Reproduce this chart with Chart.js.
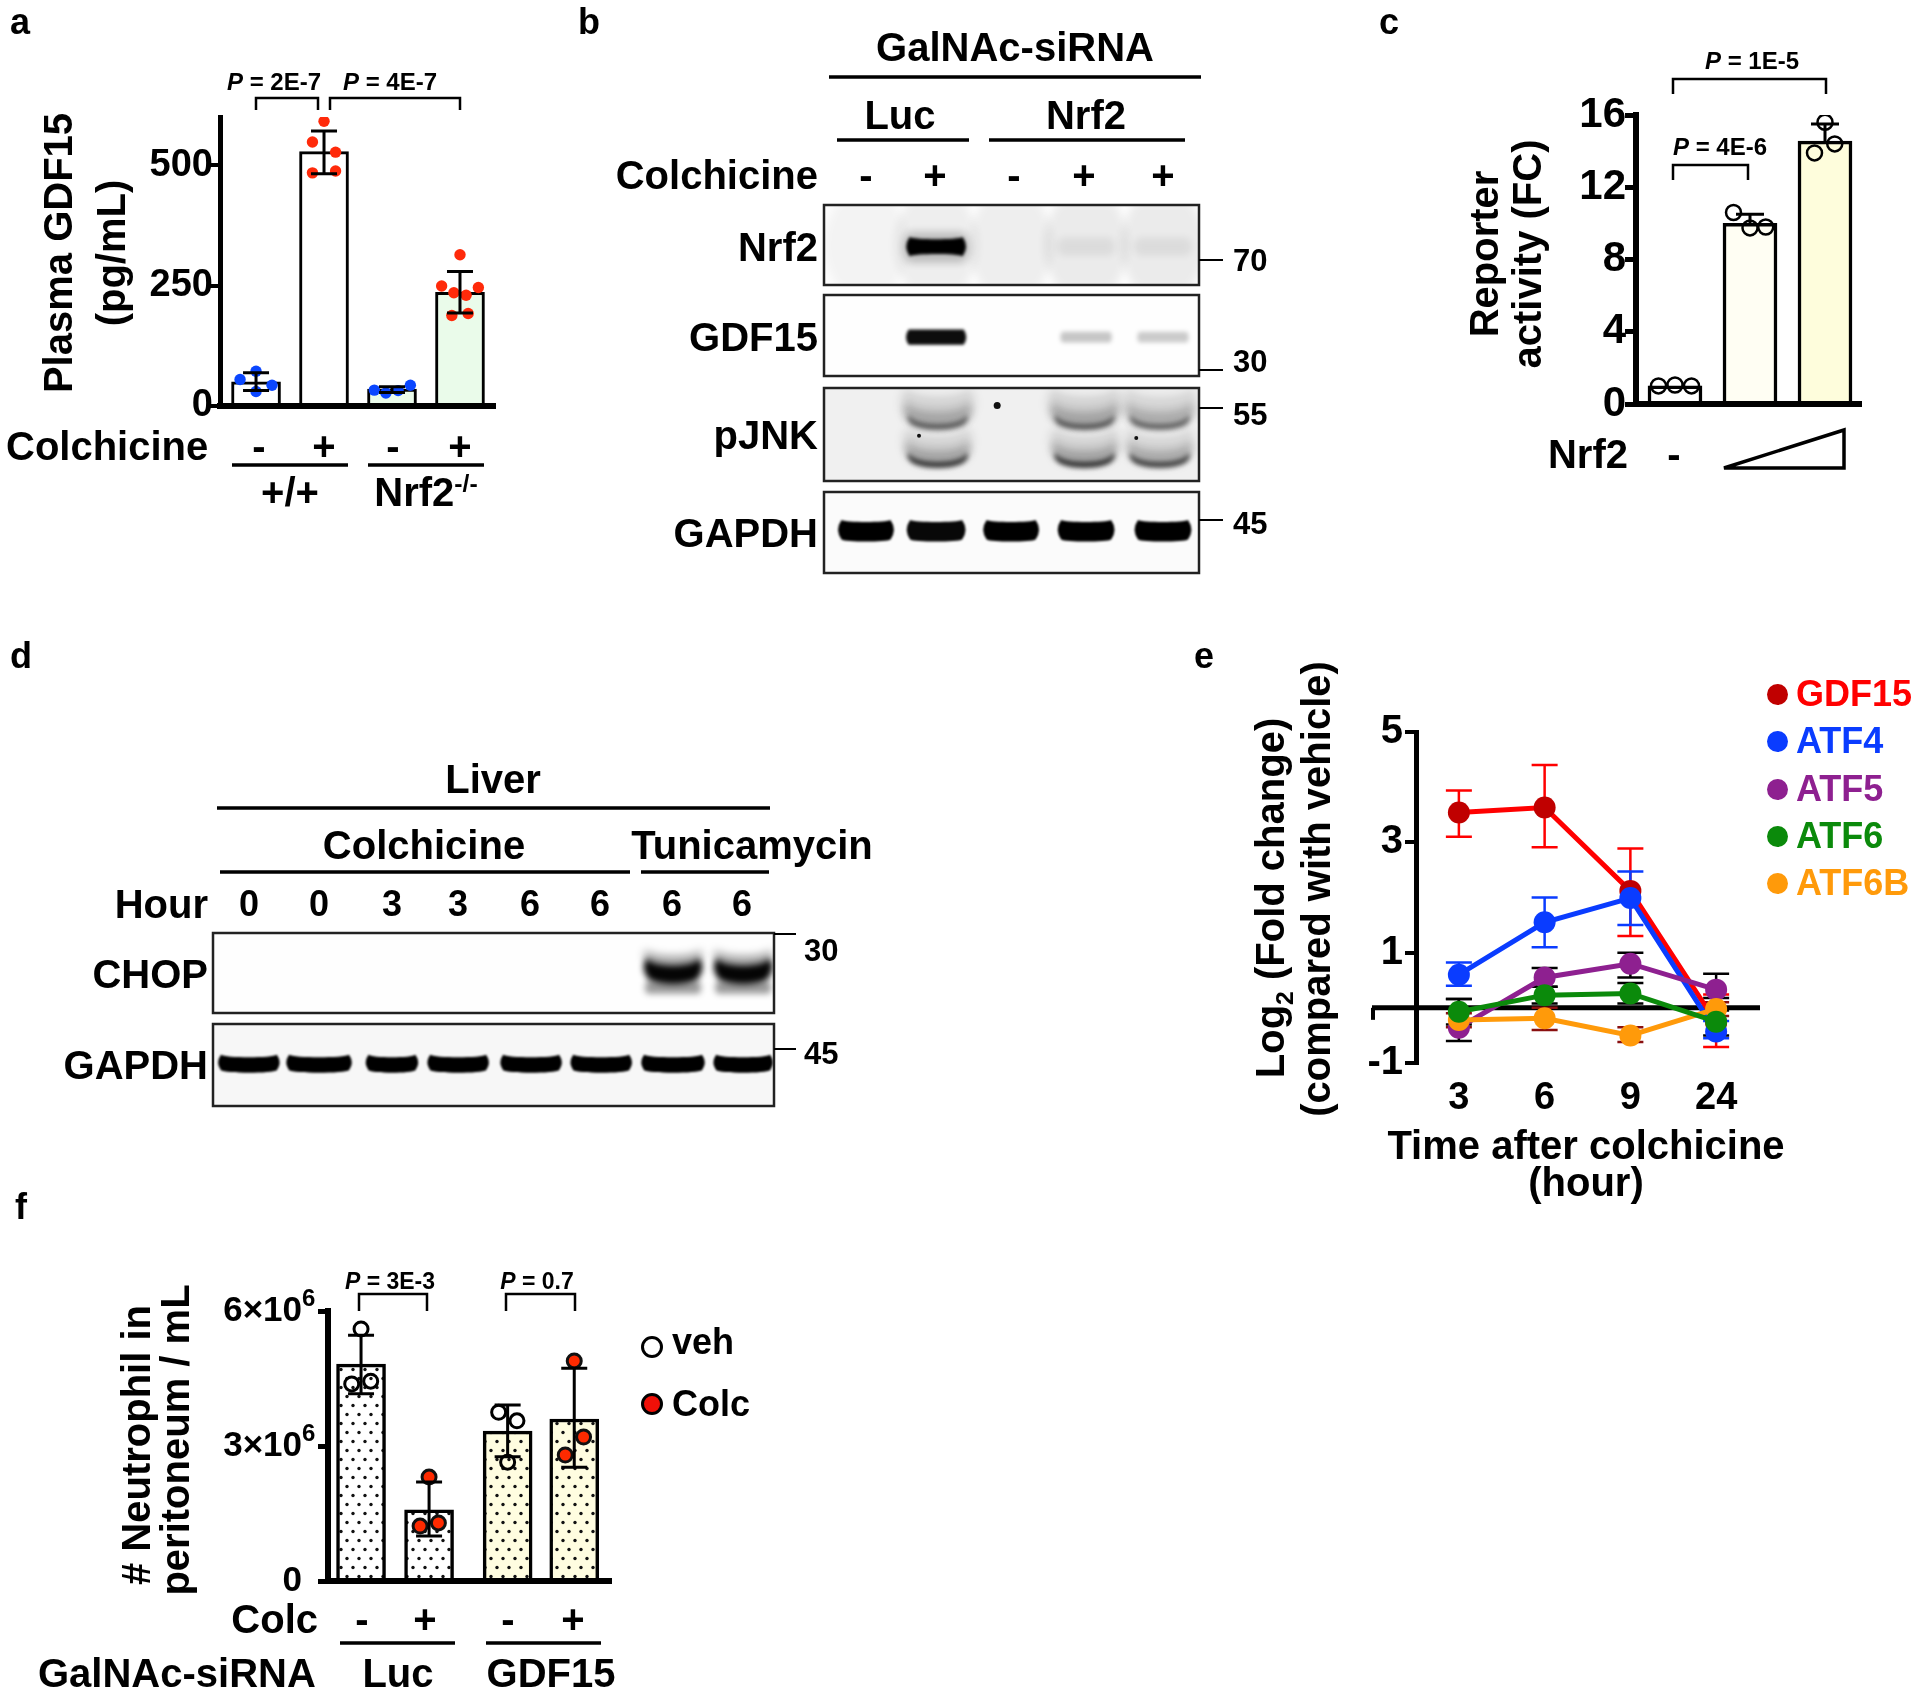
<!DOCTYPE html>
<html>
<head>
<meta charset="utf-8">
<script src="https://cdn.jsdelivr.net/npm/chart.js@4"></script>
<style>
  html, body { margin: 0; background: #fff; }
  #page { position: relative; width: 1920px; height: 1694px; overflow: hidden; background: #fff;
          font-family: "Liberation Sans", Arial, sans-serif; font-weight: bold; color: #000; }
  #page canvas { position: absolute; }
  #lines { position: absolute; left: 0; top: 0; z-index: 5; }
  .t { position: absolute; white-space: nowrap; line-height: 1; z-index: 6; }
  .t sup, .t sub { font-size: 62%; line-height: 0; }
  .dot { position: absolute; border-radius: 50%; box-sizing: border-box; z-index: 6; }
</style>
</head>
<body>
<div id="page"><svg id="lines" width="1920" height="1694"></svg></div>
<script>
// ----------------------
// DATA
// ----------------------

// panel a
const aBarX = [0, 1, 2, 3];
const aMeans = [50, 528, 35, 236];
const aErrHi = [69, 571, 40, 279];
const aErrLo = [32, 482, 28, 193];
const aBlueX = [0, -0.235, 0.235, 0, 1.74, 1.91, 2.09, 2.27];
const aBlueY = [72, 55, 43, 30, 33, 27, 32, 43];
const aRedX = [1, 0.83, 1.17, 0.83, 1.17, 3, 2.73, 3.27, 2.91, 3.09, 2.88, 3.12];
const aRedY = [591, 548, 527, 484, 488, 314, 249, 246, 235, 230, 188, 192];
const aTicks = [0, 250, 500];

// panel c
const cBarX = [0, 1, 2];
const cMeans = [1.0, 10.0, 14.55];
const cErrHi = [1.0, 10.5, 15.5];
const cDotX = [-0.22, 0, 0.22, 0.78, 1, 1.21, 2, 1.86, 2.13];
const cDotY = [1.0, 1.05, 1.0, 10.6, 9.75, 9.8, 15.6, 13.9, 14.4];
const cTicks = [0, 4, 8, 12, 16];

// panel e
const eHours = ['3', '6', '9', '24'];
const eTicks = [-1, 1, 3, 5];
const gdf15 = [3.54, 3.63, 2.12, -0.27];
const gdf15Hi = [3.94, 4.4, 2.89, 0.24];
const gdf15Lo = [3.1, 2.91, 1.3, -0.71];
const atf4 = [0.6, 1.55, 1.99, -0.43];
const atf4Hi = [0.82, 2.0, 2.47, -0.24];
const atf4Lo = [0.4, 1.1, 1.5, -0.55];
const atf5 = [-0.36, 0.55, 0.8, 0.33];
const atf5Hi = [0.16, 0.72, 1.0, 0.62];
const atf5Lo = [-0.6, 0.38, 0.55, 0.18];
const atf6 = [-0.07, 0.23, 0.26, -0.25];
const atf6Hi = [0.16, 0.38, 0.45, -0.05];
const atf6Lo = [-0.3, 0.08, 0.08, -0.5];
const atf6b = [-0.22, -0.19, -0.5, -0.02];
const atf6bHi = [-0.1, 0.0, -0.35, 0.1];
const atf6bLo = [-0.35, -0.4, -0.62, -0.15];

// panel f
const fBarX = [0, 1.007, 2.17, 3.156];
const fMeans = [4.82e6, 1.58e6, 3.33e6, 3.6e6];
const fErrHi = [5.46e6, 2.2e6, 3.91e6, 4.73e6];
const fErrLo = [4.16e6, 1.0e6, 2.76e6, 2.53e6];
const fVehX = [0, -0.138, 0.143, 2.037, 2.308, 2.17];
const fVehY = [5.6e6, 4.38e6, 4.44e6, 3.75e6, 3.56e6, 2.64e6];
const fColcX = [1.007, 0.874, 1.145, 3.156, 3.294, 3.023];
const fColcY = [2.31e6, 1.22e6, 1.29e6, 4.89e6, 3.2e6, 2.8e6];
const fTicks = [0, 3e6, 6e6];

// blot lanes (fraction of strip width) and band density per lane
const bLanes = [0.112, 0.299, 0.499, 0.699, 0.904];
const nrf2Haze = [0.04, 0.06, 0.06, 0.07, 0.07];
const nrf2Density = [0, 1, 0, 0, 0];
const nrf2Faint = [0, 0, 0, 0.07, 0.07];
const gdf15Density = [0, 0.95, 0, 0, 0];
const gdf15Faint = [0, 0, 0, 0.22, 0.2];
const pjnkDensity = [0, 0.78, 0, 0.8, 0.72];
const gapdhBDensity = [1, 0.97, 1, 1, 1];
const dLanes = [0.064, 0.189, 0.319, 0.437, 0.567, 0.692, 0.82, 0.945];
const chopDensity = [0, 0, 0, 0, 0, 0, 0.98, 0.98];
const gapdhDDensity = [1, 1, 1, 1, 1, 1, 1, 1];

// ----------------------
// HELPERS
// ----------------------

const page = document.getElementById('page');
const svg = document.getElementById('lines');
const FONT = '"Liberation Sans", Arial, sans-serif';
Chart.defaults.font.family = FONT;
Chart.defaults.font.weight = 'bold';
Chart.defaults.color = '#000';
Chart.defaults.animation = false;

function T(html, x, y, opts) {
  const o = opts || {};
  const d = document.createElement('div');
  d.className = 't';
  d.innerHTML = html;
  d.style.left = x + 'px';
  d.style.top = y + 'px';
  d.style.fontSize = (o.size || 40) + 'px';
  if (o.color) d.style.color = o.color;
  const ax = o.anchor === 'l' ? '0' : o.anchor === 'r' ? '-100%' : '-50%';
  d.style.transform = 'translate(' + ax + ',-50%)' + (o.rot ? ' rotate(-90deg)' : '');
  page.appendChild(d);
}

function L(x1, y1, x2, y2, w) {
  const l = document.createElementNS('http://www.w3.org/2000/svg', 'line');
  l.setAttribute('x1', x1); l.setAttribute('y1', y1);
  l.setAttribute('x2', x2); l.setAttribute('y2', y2);
  l.setAttribute('stroke', '#000');
  l.setAttribute('stroke-width', w || 3.5);
  svg.appendChild(l);
}

function bracket(x1, x2, top, bottom) {
  const p = document.createElementNS('http://www.w3.org/2000/svg', 'path');
  p.setAttribute('d', `M${x1} ${bottom}V${top}H${x2}V${bottom}`);
  p.setAttribute('fill', 'none');
  p.setAttribute('stroke', '#000');
  p.setAttribute('stroke-width', 2.5);
  svg.appendChild(p);
}

function frame(x1, y1, x2, y2) {
  const r = document.createElementNS('http://www.w3.org/2000/svg', 'rect');
  r.setAttribute('x', x1); r.setAttribute('y', y1);
  r.setAttribute('width', x2 - x1); r.setAttribute('height', y2 - y1);
  r.setAttribute('fill', 'none');
  r.setAttribute('stroke', '#222');
  r.setAttribute('stroke-width', 2.5);
  svg.appendChild(r);
}

// canvas placed so that the plot area lands on the rect
function plotCanvas(pl, pt, pr, pb, yw, xh, padTop, padRight) {
  const c = document.createElement('canvas');
  c.width = yw + (pr - pl) + padRight;
  c.height = padTop + (pb - pt) + xh;
  c.style.left = (pl - yw) + 'px';
  c.style.top = (pt - padTop) + 'px';
  page.appendChild(c);
  return c;
}

const zip = (xs, ys) => xs.map((x, i) => ({ x: x, y: ys[i] }));

function errPlugin(sets, under) {
  const draw = chart => {
    const ctx = chart.ctx, xs = chart.scales.x, ys = chart.scales.y;
    sets.forEach(s => {
      ctx.save();
      ctx.strokeStyle = s.color || '#000';
      ctx.lineWidth = s.lw || 3;
      s.x.forEach((x, i) => {
        const px = xs.getPixelForValue(x);
        const hi = ys.getPixelForValue(s.hi[i]);
        const lo = ys.getPixelForValue(s.lo[i]);
        ctx.beginPath();
        ctx.moveTo(px, hi); ctx.lineTo(px, lo);
        ctx.moveTo(px - s.cap, hi); ctx.lineTo(px + s.cap, hi);
        if (s.lowCap !== false) { ctx.moveTo(px - s.cap, lo); ctx.lineTo(px + s.cap, lo); }
        ctx.stroke();
      });
      ctx.restore();
    });
  };
  return under ? { id: 'errUnder', beforeDatasetsDraw: draw } : { id: 'errOver', afterDatasetsDraw: draw };
}

function yAxis(min, max, ticks, yw, size, fmt, tickLen, tickW, pad) {
  return {
    min: min, max: max,
    afterFit: s => { s.width = yw; },
    afterBuildTicks: s => { s.ticks = ticks.map(v => ({ value: v })); },
    border: { display: true, color: '#000', width: tickW + 1, z: 1 },
    grid: { drawOnChartArea: false, tickLength: tickLen, lineWidth: tickW, color: '#000' },
    ticks: { font: { size: size, weight: 'bold' }, padding: pad || 2, autoSkip: false, callback: fmt || (v => v) }
  };
}

function barAxisX(min, max, xh) {
  return {
    type: 'linear', min: min, max: max, offset: false,
    afterFit: s => { s.height = xh; },
    border: { display: true, color: '#000', width: 6, z: 1 },
    grid: { display: false, offset: false },
    ticks: { display: false }
  };
}

function dotPattern(bg) {
  const c = document.createElement('canvas');
  c.width = 12; c.height = 18;
  const g = c.getContext('2d');
  g.fillStyle = bg;
  g.fillRect(0, 0, 12, 18);
  g.fillStyle = '#111';
  [[3, 4.5], [9, 13.5]].forEach(p => {
    g.beginPath(); g.arc(p[0], p[1], 1.7, 0, Math.PI * 2); g.fill();
  });
  return g.createPattern(c, 'repeat');
}

// ----------------------
// PANEL A
// ----------------------

new Chart(plotCanvas(220, 117, 495, 406, 120, 30, 30, 20), {
  type: 'bar',
  data: {
    datasets: [
      { type: 'scatter', data: zip(aBlueX, aBlueY), pointRadius: 5.7, pointBackgroundColor: '#0A46FF', pointBorderWidth: 0 },
      { type: 'scatter', data: zip(aRedX, aRedY), pointRadius: 5.7, pointBackgroundColor: '#FF2A0A', pointBorderWidth: 0 },
      { data: zip(aBarX, aMeans), barThickness: 49, borderWidth: 3, borderColor: '#000',
        backgroundColor: ['#fff', '#fff', '#EAFBEA', '#EAFBEA'] }
    ]
  },
  options: {
    responsive: false,
    layout: { padding: { top: 30, right: 20 } },
    plugins: { legend: { display: false }, tooltip: { enabled: false } },
    scales: { x: barAxisX(-0.53, 3.515, 30), y: yAxis(0, 600, aTicks, 120, 38, null, 10, 4, -3) }
  },
  plugins: [errPlugin([{ x: aBarX, hi: aErrHi, lo: aErrLo, cap: 13, lw: 3 }], false)]
});

T('a', 10, 22, { size: 36, anchor: 'l' });
T('Plasma GDF15', 58, 253, { rot: 1 });
T('(pg/mL)', 111, 253, { rot: 1 });
T('<i>P</i> = 2E-7', 274, 82, { size: 24 });
T('<i>P</i> = 4E-7', 390, 82, { size: 24 });
bracket(256, 318, 98, 110);
bracket(330, 460, 98, 110);
T('Colchicine', 6, 446, { anchor: 'l' });
T('-', 259, 446); T('+', 324, 446); T('-', 393, 446); T('+', 460, 446);
L(232, 465, 348, 465); L(368, 465, 484, 465);
T('+/+', 290, 492);
T('Nrf2<sup>-/-</sup>', 426, 492);

// ----------------------
// BLOTS
// ----------------------

function bandPath(ctx, cx, cy, w, h, sag, pinch) {
  const l = cx - w / 2, r = cx + w / 2;
  const topEnd = cy - h / 2 - sag, botEnd = cy + h / 2 - sag;
  const topCtl = cy - h / 2 + sag / 3 + pinch, botCtl = cy + h / 2 + sag / 3 - pinch;
  const round = h * 0.35;
  ctx.beginPath();
  ctx.moveTo(l, topEnd);
  ctx.bezierCurveTo(l + 0.08 * w, topCtl, r - 0.08 * w, topCtl, r, topEnd);
  ctx.quadraticCurveTo(r + round, (topEnd + botEnd) / 2, r, botEnd);
  ctx.bezierCurveTo(r - 0.08 * w, botCtl, l + 0.08 * w, botCtl, l, botEnd);
  ctx.quadraticCurveTo(l - round, (topEnd + botEnd) / 2, l, topEnd);
  ctx.closePath();
}

function blot(x1, y1, x2, y2, bg, lanes, rows, specks, speckSizes) {
  const c = document.createElement('canvas');
  c.width = x2 - x1; c.height = y2 - y1;
  c.style.left = x1 + 'px'; c.style.top = y1 + 'px';
  c.style.background = bg;
  page.appendChild(c);
  frame(x1, y1, x2, y2);
  new Chart(c, {
    type: 'scatter',
    data: {
      datasets: [{ data: specks || [], pointRadius: speckSizes || 2, pointBackgroundColor: '#111', pointBorderWidth: 0 }]
        .concat(rows.map(r => ({ data: lanes.map(x => ({ x: x, y: r.y })), pointRadius: 0 })))
    },
    options: {
      responsive: false,
      plugins: { legend: { display: false }, tooltip: { enabled: false } },
      scales: {
        x: { display: false, min: 0, max: 1 },
        y: { display: false, min: 0, max: 1, reverse: true }
      }
    },
    plugins: [{
      id: 'bands',
      beforeDatasetsDraw(chart) {
        const ctx = chart.ctx, xs = chart.scales.x, ys = chart.scales.y;
        const H = chart.chartArea.bottom - chart.chartArea.top;
        rows.forEach(r => {
          ctx.save();
          ctx.filter = 'blur(' + r.blur + 'px)';
          lanes.forEach((x, i) => {
            const d = r.density[i] * (r.gain || 1);
            if (!d) return;
            ctx.fillStyle = 'rgba(0,0,0,' + d + ')';
            const w = r.widths ? r.widths[i] : r.w;
            bandPath(ctx, xs.getPixelForValue(x), ys.getPixelForValue(r.y), w, r.h * H, r.sag, r.pinch || 0);
            ctx.fill();
          });
          ctx.restore();
        });
      }
    }]
  });
}

// panel b
blot(824, 205, 1199, 285, '#FDFDFD', bLanes, [
  { y: 0.5, h: 1.1, w: 54, sag: 0, blur: 5, density: nrf2Haze },
  { y: 0.52, h: 0.22, w: 52, sag: 0, blur: 4, density: nrf2Faint },
  { y: 0.53, h: 0.38, w: 55, sag: 0, blur: 4, density: nrf2Density, gain: 0.22 },
  { y: 0.52, h: 0.24, w: 53, sag: 0, blur: 1.8, pinch: 3, density: nrf2Density }
]);
blot(824, 295, 1199, 376, '#FEFEFE', bLanes, [
  { y: 0.52, h: 0.19, w: 55, sag: 0, blur: 1.8, density: gdf15Density },
  { y: 0.52, h: 0.13, w: 48, sag: 0, blur: 2.2, density: gdf15Faint }
]);
blot(824, 388, 1199, 481, '#F0F0F0', bLanes, [
  { y: 0.24, h: 0.38, w: 63, sag: 9, blur: 5, density: pjnkDensity, gain: 0.16 },
  { y: 0.33, h: 0.20, w: 62, sag: 9, blur: 4, density: pjnkDensity, gain: 0.28 },
  { y: 0.41, h: 0.06, w: 58, sag: 9, blur: 2.5, density: pjnkDensity, gain: 0.75 },
  { y: 0.69, h: 0.34, w: 60, sag: 9, blur: 5, density: pjnkDensity, gain: 0.16 },
  { y: 0.78, h: 0.18, w: 60, sag: 9, blur: 4, density: pjnkDensity, gain: 0.3 },
  { y: 0.855, h: 0.065, w: 58, sag: 9, blur: 2.5, density: pjnkDensity }
], [{ x: 0.461, y: 0.16 }, { x: 0.248, y: 0.516 }, { x: 0.84, y: 0.54 }], [3.5, 2, 2]);
blot(824, 492, 1199, 573, '#FBFBFB', bLanes, [
  { y: 0.49, h: 0.24, w: 50, sag: 2, blur: 1.3, density: gapdhBDensity,
    widths: [49, 52, 49, 50, 50] }
]);

T('b', 578, 22, { size: 36, anchor: 'l' });
T('GalNAc-siRNA', 1015, 47);
L(829, 77, 1201, 77);
T('Luc', 900, 115); T('Nrf2', 1086, 115);
L(837, 140, 969, 140); L(989, 140, 1185, 140);
T('Colchicine', 818, 175, { anchor: 'r' });
T('-', 866, 175); T('+', 935, 175); T('-', 1014, 175); T('+', 1084, 175); T('+', 1163, 175);
T('Nrf2', 818, 247, { anchor: 'r' });
T('GDF15', 818, 337, { anchor: 'r' });
T('pJNK', 818, 435, { anchor: 'r' });
T('GAPDH', 818, 533, { anchor: 'r' });
L(1199, 260, 1223, 260, 2); T('70', 1233, 260, { anchor: 'l', size: 31 });
L(1199, 370, 1223, 370, 2); T('30', 1233, 361, { anchor: 'l', size: 31 });
L(1199, 408, 1223, 408, 2); T('55', 1233, 414, { anchor: 'l', size: 31 });
L(1199, 520, 1223, 520, 2); T('45', 1233, 523, { anchor: 'l', size: 31 });

// panel d
blot(213, 933, 774, 1013, '#FEFEFE', dLanes, [
  { y: 0.36, h: 0.16, w: 54, sag: 6, blur: 4, density: chopDensity, gain: 0.35 },
  { y: 0.68, h: 0.16, w: 52, sag: 0, blur: 3, density: chopDensity, gain: 0.4 },
  { y: 0.52, h: 0.24, w: 52, sag: 7, blur: 3, density: chopDensity }
]);
blot(213, 1024, 774, 1106, '#F7F7F7', dLanes, [
  { y: 0.5, h: 0.19, w: 54, sag: 2.5, blur: 1.3, density: gapdhDDensity,
    widths: [56, 60, 47, 56, 56, 56, 58, 54] }
]);

T('d', 10, 656, { size: 36, anchor: 'l' });
T('Liver', 493, 779);
L(217, 808, 770, 808);
T('Colchicine', 424, 845); T('Tunicamycin', 752, 845);
L(220, 872, 630, 872); L(641, 872, 769, 872);
T('Hour', 208, 904, { anchor: 'r' });
['0', '0', '3', '3', '6', '6', '6', '6'].forEach((h, i) => {
  T(h, [249, 319, 392, 458, 530, 600, 672, 742][i], 904, { size: 36 });
});
T('CHOP', 208, 974, { anchor: 'r' });
T('GAPDH', 208, 1065, { anchor: 'r' });
L(774, 934, 796, 934, 2); T('30', 804, 950, { anchor: 'l', size: 31 });
L(774, 1049, 796, 1049, 2); T('45', 804, 1053, { anchor: 'l', size: 31 });

// ----------------------
// PANEL C
// ----------------------

new Chart(plotCanvas(1636, 115, 1861, 404, 120, 30, 30, 20), {
  type: 'bar',
  data: {
    datasets: [
      { type: 'scatter', data: zip(cDotX, cDotY), pointRadius: 7.5, pointBackgroundColor: 'transparent',
        pointBorderColor: '#000', pointBorderWidth: 2.5 },
      { data: zip(cBarX, cMeans), barThickness: 54, borderWidth: 3.5, borderColor: '#000',
        backgroundColor: ['#fff', '#FFFEF3', '#FEFDDC'] }
    ]
  },
  options: {
    responsive: false,
    layout: { padding: { top: 30, right: 20 } },
    plugins: { legend: { display: false }, tooltip: { enabled: false } },
    scales: { x: barAxisX(-0.52, 2.48, 30), y: yAxis(0, 16, cTicks, 120, 42, null, 11, 5, -1) }
  },
  plugins: [errPlugin([{ x: cBarX.slice(1), hi: cErrHi.slice(1), lo: cMeans.slice(1), cap: 14, lw: 3, lowCap: false }], false)]
});

T('c', 1379, 22, { size: 36, anchor: 'l' });
T('Reporter', 1484, 254, { rot: 1 });
T('activity (FC)', 1527, 254, { rot: 1 });
T('<i>P</i> = 1E-5', 1752, 61, { size: 24 });
bracket(1673, 1826, 79, 94);
T('<i>P</i> = 4E-6', 1720, 147, { size: 24 });
bracket(1673, 1748, 165, 180);
T('Nrf2', 1588, 454);
T('-', 1674, 454);
const tri = document.createElementNS('http://www.w3.org/2000/svg', 'path');
tri.setAttribute('d', 'M1724 468L1844 430V468Z');
tri.setAttribute('fill', 'none');
tri.setAttribute('stroke', '#000');
tri.setAttribute('stroke-width', 3.5);
svg.appendChild(tri);

// ----------------------
// PANEL E
// ----------------------

const eSeries = [
  { name: 'ATF6', y: atf6, hi: atf6Hi, lo: atf6Lo, line: '#0B8A0B', dot: '#0B8A0B', err: '#000' },
  { name: 'ATF6B', y: atf6b, hi: atf6bHi, lo: atf6bLo, line: '#FF9A0A', dot: '#FF9A0A', err: '#8A1010' },
  { name: 'ATF5', y: atf5, hi: atf5Hi, lo: atf5Lo, line: '#8E2090', dot: '#8E2090', err: '#000' },
  { name: 'ATF4', y: atf4, hi: atf4Hi, lo: atf4Lo, line: '#0A3CFF', dot: '#0A3CFF', err: '#0A3CFF' },
  { name: 'GDF15', y: gdf15, hi: gdf15Hi, lo: gdf15Lo, line: '#FF0000', dot: '#C00000', err: '#FF0000' }
];

new Chart(plotCanvas(1416, 732, 1759, 1063, 120, 70, 30, 20), {
  type: 'line',
  data: {
    labels: eHours,
    datasets: eSeries.map(s => ({
      label: s.name, data: s.y, borderColor: s.line, borderWidth: 5, tension: 0,
      pointRadius: 11, pointBackgroundColor: s.dot, pointBorderWidth: 0, clip: false
    }))
  },
  options: {
    responsive: false,
    layout: { padding: { top: 30, right: 20 } },
    plugins: { legend: { display: false }, tooltip: { enabled: false } },
    scales: {
      x: {
        offset: true,
        afterFit: s => { s.height = 70; },
        border: { display: false },
        grid: { display: false },
        ticks: { font: { size: 38, weight: 'bold' }, padding: 5, maxRotation: 0 }
      },
      y: yAxis(-1, 5, eTicks, 120, 40, null, 11, 4)
    }
  },
  plugins: [
    {
      id: 'zeroLine',
      beforeDatasetsDraw(chart) {
        const ctx = chart.ctx, y0 = chart.scales.y.getPixelForValue(0);
        const left = chart.chartArea.left - 44;
        ctx.save();
        ctx.strokeStyle = '#000';
        ctx.lineWidth = 5;
        ctx.beginPath();
        ctx.moveTo(left, y0); ctx.lineTo(chart.chartArea.right + 1, y0);
        ctx.stroke();
        ctx.lineWidth = 4;
        ctx.beginPath();
        ctx.moveTo(left + 1, y0); ctx.lineTo(left + 1, y0 + 12);
        ctx.stroke();
        ctx.restore();
      }
    },
    errPlugin(eSeries.slice().reverse().map(s => ({
      x: [0, 1, 2, 3], hi: s.hi, lo: s.lo, color: s.err, cap: 13, lw: 2.5
    })), true)
  ]
});

T('e', 1194, 656, { size: 36, anchor: 'l' });
T('Log<sub>2</sub> (Fold change)', 1270, 898, { rot: 1 });
T('(compared with vehicle)', 1316, 889, { rot: 1 });
T('Time after colchicine', 1586, 1145);
T('(hour)', 1586, 1182);

const eLegend = [
  ['GDF15', '#C00000', '#FF0000', 694], ['ATF4', '#0A3CFF', '#0A3CFF', 741], ['ATF5', '#8E2090', '#8E2090', 789],
  ['ATF6', '#0B8A0B', '#0B8A0B', 836], ['ATF6B', '#FF9A0A', '#FF9A0A', 883]
];
function legendDot(x, y, r, fill, stroke) {
  const d = document.createElement('div');
  d.className = 'dot';
  d.style.cssText += `left:${x - r}px;top:${y - r}px;width:${2 * r}px;height:${2 * r}px;background:${fill};` +
    (stroke ? `border:3px solid ${stroke};` : '');
  page.appendChild(d);
}
eLegend.forEach(r => {
  legendDot(1777, r[3], 10.5, r[1]);
  T(r[0], 1796, r[3], { size: 36, anchor: 'l', color: r[2] });
});

// ----------------------
// PANEL F
// ----------------------

new Chart(plotCanvas(328, 1311, 611, 1581, 140, 45, 45, 20), {
  type: 'bar',
  data: {
    datasets: [
      { type: 'scatter', data: zip(fVehX, fVehY), pointRadius: 7, pointBackgroundColor: 'transparent',
        pointBorderColor: '#000', pointBorderWidth: 3 },
      { type: 'scatter', data: zip(fColcX, fColcY), pointRadius: 7, pointBackgroundColor: '#FF2A00',
        pointBorderColor: '#111', pointBorderWidth: 3 },
      { data: zip(fBarX, fMeans), barThickness: 49, borderWidth: 3.5, borderColor: '#000',
        backgroundColor: [dotPattern('#fff'), dotPattern('#fff'), dotPattern('#FFFDE0'), dotPattern('#FFFDE0')] }
    ]
  },
  options: {
    responsive: false,
    layout: { padding: { top: 45, right: 20 } },
    plugins: { legend: { display: false }, tooltip: { enabled: false } },
    scales: {
      x: barAxisX(-0.489, 3.7, 45),
      y: yAxis(0, 6e6, fTicks, 140, 35, v => (v === 0 ? '0' : (v / 1e6) + '×10'), 10, 5, 16)
    }
  },
  plugins: [
    errPlugin([{ x: fBarX, hi: fErrHi, lo: fErrLo, cap: 13, lw: 3 }], false),
    {
      id: 'tickExponent',
      afterDraw(chart) {
        const ctx = chart.ctx, ys = chart.scales.y;
        ctx.save();
        ctx.fillStyle = '#000';
        ctx.font = 'bold 24px ' + FONT;
        ctx.textAlign = 'left';
        ctx.textBaseline = 'middle';
        fTicks.filter(v => v > 0).forEach(v => {
          ctx.fillText('6', chart.chartArea.left - 26, ys.getPixelForValue(v) - 12);
        });
        ctx.restore();
      }
    }
  ]
});

T('f', 15, 1207, { size: 36, anchor: 'l' });
T('# Neutrophil in', 136, 1445, { rot: 1 });
T('peritoneum / mL', 175, 1440, { rot: 1 });
T('<i>P</i> = 3E-3', 390, 1281, { size: 23 });
T('<i>P</i> = 0.7', 537, 1281, { size: 23 });
bracket(359, 427, 1294, 1311);
bracket(506, 575, 1294, 1311);
legendDot(652, 1347, 11, '#fff', '#000');
T('veh', 672, 1342, { size: 36, anchor: 'l' });
legendDot(652, 1404, 11, '#F01008', '#000');
T('Colc', 672, 1404, { size: 36, anchor: 'l' });
T('Colc', 318, 1619, { anchor: 'r' });
T('-', 362, 1619); T('+', 425, 1619); T('-', 508, 1619); T('+', 573, 1619);
L(340, 1643, 455, 1643); L(486, 1643, 601, 1643);
T('GalNAc-siRNA', 38, 1673, { anchor: 'l' });
T('Luc', 398, 1673);
T('GDF15', 551, 1673);
</script>
</body>
</html>
